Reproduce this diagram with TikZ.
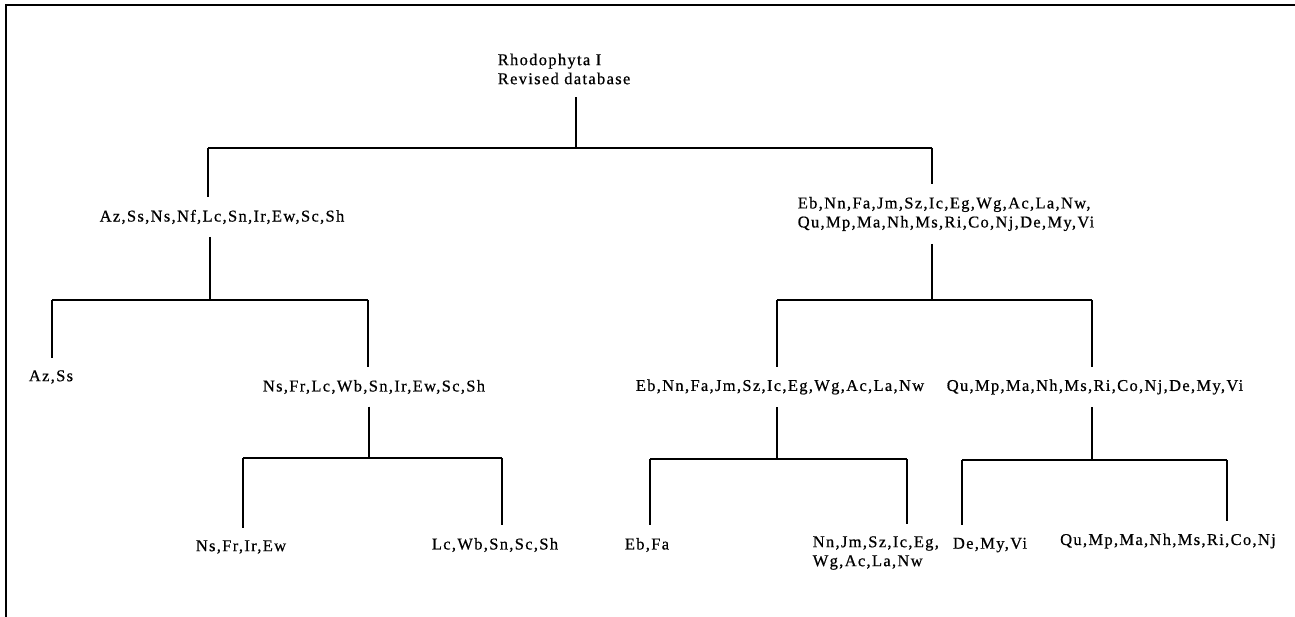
\documentclass[tikz,border=0pt]{standalone}
\usepackage{fontspec}
\setmainfont{Liberation Serif}[LetterSpace=8, FakeBold=0.6]

\begin{document}
\begin{tikzpicture}[x=1pt, y=-1pt, line width=1.5pt]
    \tikzstyle{every node} = [font=\fontsize{16.5}{19}\selectfont, inner xsep=0pt, inner ysep=12pt];
    \useasboundingbox (0,0) rectangle (1295,617);
    % frame:
    \draw[line width=2.6pt] (1295,5) -- (6,5) -- (6,617);
    % root:
    \node[align=left, anchor=west] (root) at (497,69) {Rhodophyta I\\Revised database};
    \coordinate (b0) at (576,148);
    \coordinate (b0l) at (208,148);
    \coordinate (b0r) at (932,148);
    \draw (b0 |- root.south) -- (b0);
    \draw (b0l) -- (b0r);
    % first split:
    \node (azsh) at (222,217) {Az,Ss,Ns,Nf,Lc,Sn,Ir,Ew,Sc,Sh};
    \node[align=left] (ebvi) at (946,214) {Eb,Nn,Fa,Jm,Sz,Ic,Eg,Wg,Ac,La,Nw,\\Qu,Mp,Ma,Nh,Ms,Ri,Co,Nj,De,My,Vi};
    \draw (b0l) -- (b0l |- azsh.north);
    \draw (b0r) -- (b0r |- ebvi.north);
    % left branch:
    \coordinate (b1) at (210,300);
    \coordinate (b1l) at (52,300);
    \coordinate (b1r) at (368,300);
    \draw (azsh.south -| b1) -- (b1);
    \draw (b1l) -- (b1r);
    \node (azss) at (51,377) {Az,Ss};
    \node (nssh) at (374,387) {Ns,Fr,Lc,Wb,Sn,Ir,Ew,Sc,Sh};
    \draw (b1l) -- (b1l |- azss.north);
    \draw (b1r) -- (b1r |- nssh.north);
    \coordinate (b2) at (369,458);
    \coordinate (b2l) at (243,458);
    \coordinate (b2r) at (502,458);
    \draw (nssh.south -| b2) -- (b2);
    \draw (b2l) -- (b2r);
    \node (nsew) at (241,547) {Ns,Fr,Ir,Ew};
    \node (lcsh) at (495,545) {Lc,Wb,Sn,Sc,Sh};
    \draw (b2l) -- (b2l |- nsew.north);
    \draw (b2r) -- (b2r |- lcsh.north);
    % right branch:
    \coordinate (b3) at (932,300);
    \coordinate (b3l) at (777,300);
    \coordinate (b3r) at (1092,300);
    \draw (ebvi.south -| b3) -- (b3);
    \draw (b3l) -- (b3r);
    \node (ebnw) at (780,387) {Eb,Nn,Fa,Jm,Sz,Ic,Eg,Wg,Ac,La,Nw};
    \node (quvi) at (1095,387) {Qu,Mp,Ma,Nh,Ms,Ri,Co,Nj,De,My,Vi};
    \draw (b3l) -- (b3l |- ebnw.north);
    \draw (b3r) -- (b3r |- quvi.north);
    \coordinate (b4) at (777,459);
    \coordinate (b4l) at (650,459);
    \coordinate (b4r) at (907,459);
    \draw (ebnw.south -| b4) -- (b4);
    \draw (b4l) -- (b4r);
    \node (ebfa) at (647,545) {Eb,Fa};
    \node[align=left, anchor=west] (nnnw) at (812,553) {Nn,Jm,Sz,Ic,Eg,\\Wg,Ac,La,Nw};
    \draw (b4l) -- (b4l |- ebfa.north);
    \draw (b4r) -- (b4r |- nnnw.north);
    \coordinate (b5) at (1092,460);
    \coordinate (b5l) at (962,460);
    \coordinate (b5r) at (1227,460);
    \draw (quvi.south -| b5) -- (b5);
    \draw (b5l) -- (b5r);
    \node (devi) at (990,545) {De,My,Vi};
    \node (qunj) at (1168,541) {Qu,Mp,Ma,Nh,Ms,Ri,Co,Nj};
    \draw (b5l) -- (b5l |- devi.north);
    \draw (b5r) -- (b5r |- qunj.north);
\end{tikzpicture}
\end{document}
